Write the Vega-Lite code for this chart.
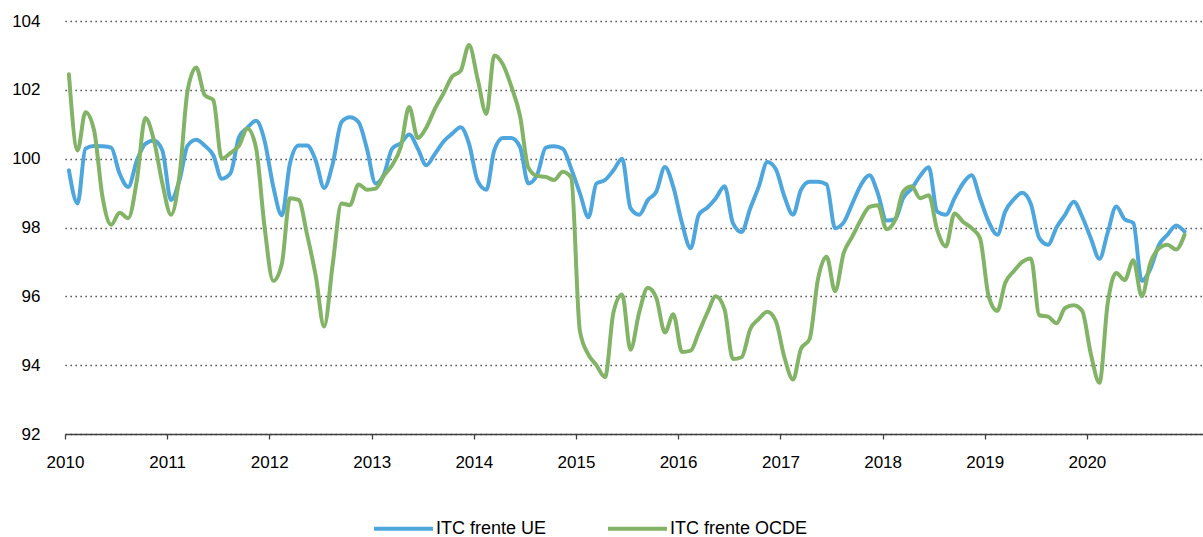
{
  "$schema": "https://vega.github.io/schema/vega-lite/v6.json",
  "width": 1138,
  "height": 413,
  "autosize": {"type": "none"},
  "padding": {"left": 65, "top": 21, "right": 0, "bottom": 103},
  "background": "white",
  "config": {"view": {"stroke": null}, "font": "Liberation Sans"},
  "data": {"values": [
    {"m":"2010-01-15","ITC frente UE":99.66,"ITC frente OCDE":102.45},
    {"m":"2010-02-15","ITC frente UE":98.70,"ITC frente OCDE":100.24},
    {"m":"2010-03-15","ITC frente UE":100.29,"ITC frente OCDE":101.35},
    {"m":"2010-04-15","ITC frente UE":100.37,"ITC frente OCDE":100.82},
    {"m":"2010-05-15","ITC frente UE":100.36,"ITC frente OCDE":98.89},
    {"m":"2010-06-15","ITC frente UE":100.32,"ITC frente OCDE":98.08},
    {"m":"2010-07-15","ITC frente UE":99.57,"ITC frente OCDE":98.43},
    {"m":"2010-08-15","ITC frente UE":99.18,"ITC frente OCDE":98.27},
    {"m":"2010-09-15","ITC frente UE":99.95,"ITC frente OCDE":99.38},
    {"m":"2010-10-15","ITC frente UE":100.43,"ITC frente OCDE":101.18},
    {"m":"2010-11-15","ITC frente UE":100.53,"ITC frente OCDE":100.53},
    {"m":"2010-12-15","ITC frente UE":100.24,"ITC frente OCDE":99.28},
    {"m":"2011-01-15","ITC frente UE":98.80,"ITC frente OCDE":98.37},
    {"m":"2011-02-15","ITC frente UE":99.40,"ITC frente OCDE":99.57},
    {"m":"2011-03-15","ITC frente UE":100.38,"ITC frente OCDE":101.97},
    {"m":"2011-04-15","ITC frente UE":100.55,"ITC frente OCDE":102.65},
    {"m":"2011-05-15","ITC frente UE":100.38,"ITC frente OCDE":101.85},
    {"m":"2011-06-15","ITC frente UE":100.10,"ITC frente OCDE":101.70},
    {"m":"2011-07-15","ITC frente UE":99.42,"ITC frente OCDE":100.00},
    {"m":"2011-08-15","ITC frente UE":99.57,"ITC frente OCDE":100.16},
    {"m":"2011-09-15","ITC frente UE":100.63,"ITC frente OCDE":100.38},
    {"m":"2011-10-15","ITC frente UE":100.90,"ITC frente OCDE":100.88},
    {"m":"2011-11-15","ITC frente UE":101.10,"ITC frente OCDE":100.30},
    {"m":"2011-12-15","ITC frente UE":100.53,"ITC frente OCDE":98.03},
    {"m":"2012-01-15","ITC frente UE":99.20,"ITC frente OCDE":96.45},
    {"m":"2012-02-15","ITC frente UE":98.35,"ITC frente OCDE":96.95},
    {"m":"2012-03-15","ITC frente UE":99.86,"ITC frente OCDE":98.85},
    {"m":"2012-04-15","ITC frente UE":100.38,"ITC frente OCDE":98.80},
    {"m":"2012-05-15","ITC frente UE":100.38,"ITC frente OCDE":97.80},
    {"m":"2012-06-15","ITC frente UE":99.95,"ITC frente OCDE":96.60},
    {"m":"2012-07-15","ITC frente UE":99.15,"ITC frente OCDE":95.12},
    {"m":"2012-08-15","ITC frente UE":99.86,"ITC frente OCDE":96.95},
    {"m":"2012-09-15","ITC frente UE":101.06,"ITC frente OCDE":98.70},
    {"m":"2012-10-15","ITC frente UE":101.20,"ITC frente OCDE":98.65},
    {"m":"2012-11-15","ITC frente UE":101.06,"ITC frente OCDE":99.25},
    {"m":"2012-12-15","ITC frente UE":100.29,"ITC frente OCDE":99.10},
    {"m":"2013-01-15","ITC frente UE":99.28,"ITC frente OCDE":99.13},
    {"m":"2013-02-15","ITC frente UE":99.57,"ITC frente OCDE":99.52},
    {"m":"2013-03-15","ITC frente UE":100.29,"ITC frente OCDE":99.81},
    {"m":"2013-04-15","ITC frente UE":100.45,"ITC frente OCDE":100.34},
    {"m":"2013-05-15","ITC frente UE":100.70,"ITC frente OCDE":101.50},
    {"m":"2013-06-15","ITC frente UE":100.29,"ITC frente OCDE":100.60},
    {"m":"2013-07-15","ITC frente UE":99.81,"ITC frente OCDE":100.90},
    {"m":"2013-08-15","ITC frente UE":100.14,"ITC frente OCDE":101.45},
    {"m":"2013-09-15","ITC frente UE":100.50,"ITC frente OCDE":101.90},
    {"m":"2013-10-15","ITC frente UE":100.72,"ITC frente OCDE":102.38},
    {"m":"2013-11-15","ITC frente UE":100.91,"ITC frente OCDE":102.55},
    {"m":"2013-12-15","ITC frente UE":100.43,"ITC frente OCDE":103.30},
    {"m":"2014-01-15","ITC frente UE":99.35,"ITC frente OCDE":102.30},
    {"m":"2014-02-15","ITC frente UE":99.10,"ITC frente OCDE":101.30},
    {"m":"2014-03-15","ITC frente UE":100.24,"ITC frente OCDE":103.00},
    {"m":"2014-04-15","ITC frente UE":100.60,"ITC frente OCDE":102.74},
    {"m":"2014-05-15","ITC frente UE":100.60,"ITC frente OCDE":102.10},
    {"m":"2014-06-15","ITC frente UE":100.34,"ITC frente OCDE":101.25},
    {"m":"2014-07-15","ITC frente UE":99.28,"ITC frente OCDE":99.74},
    {"m":"2014-08-15","ITC frente UE":99.52,"ITC frente OCDE":99.50},
    {"m":"2014-09-15","ITC frente UE":100.32,"ITC frente OCDE":99.47},
    {"m":"2014-10-15","ITC frente UE":100.36,"ITC frente OCDE":99.38},
    {"m":"2014-11-15","ITC frente UE":100.29,"ITC frente OCDE":99.62},
    {"m":"2014-12-15","ITC frente UE":99.71,"ITC frente OCDE":99.45},
    {"m":"2015-01-15","ITC frente UE":99.00,"ITC frente OCDE":95.00},
    {"m":"2015-02-15","ITC frente UE":98.30,"ITC frente OCDE":94.30},
    {"m":"2015-03-15","ITC frente UE":99.28,"ITC frente OCDE":94.00},
    {"m":"2015-04-15","ITC frente UE":99.38,"ITC frente OCDE":93.65},
    {"m":"2015-05-15","ITC frente UE":99.66,"ITC frente OCDE":95.53},
    {"m":"2015-06-15","ITC frente UE":100.00,"ITC frente OCDE":96.05},
    {"m":"2015-07-15","ITC frente UE":98.56,"ITC frente OCDE":94.45},
    {"m":"2015-08-15","ITC frente UE":98.37,"ITC frente OCDE":95.53},
    {"m":"2015-09-15","ITC frente UE":98.80,"ITC frente OCDE":96.25},
    {"m":"2015-10-15","ITC frente UE":99.04,"ITC frente OCDE":95.96},
    {"m":"2015-11-15","ITC frente UE":99.76,"ITC frente OCDE":94.95},
    {"m":"2015-12-15","ITC frente UE":99.18,"ITC frente OCDE":95.48},
    {"m":"2016-01-15","ITC frente UE":98.13,"ITC frente OCDE":94.38},
    {"m":"2016-02-15","ITC frente UE":97.40,"ITC frente OCDE":94.42},
    {"m":"2016-03-15","ITC frente UE":98.37,"ITC frente OCDE":94.95},
    {"m":"2016-04-15","ITC frente UE":98.58,"ITC frente OCDE":95.53},
    {"m":"2016-05-15","ITC frente UE":98.85,"ITC frente OCDE":96.00},
    {"m":"2016-06-15","ITC frente UE":99.20,"ITC frente OCDE":95.62},
    {"m":"2016-07-15","ITC frente UE":98.13,"ITC frente OCDE":94.18},
    {"m":"2016-08-15","ITC frente UE":97.87,"ITC frente OCDE":94.23},
    {"m":"2016-09-15","ITC frente UE":98.56,"ITC frente OCDE":95.05},
    {"m":"2016-10-15","ITC frente UE":99.18,"ITC frente OCDE":95.34},
    {"m":"2016-11-15","ITC frente UE":99.90,"ITC frente OCDE":95.55},
    {"m":"2016-12-15","ITC frente UE":99.70,"ITC frente OCDE":95.29},
    {"m":"2017-01-15","ITC frente UE":98.90,"ITC frente OCDE":94.23},
    {"m":"2017-02-15","ITC frente UE":98.37,"ITC frente OCDE":93.58},
    {"m":"2017-03-15","ITC frente UE":99.09,"ITC frente OCDE":94.47},
    {"m":"2017-04-15","ITC frente UE":99.33,"ITC frente OCDE":94.76},
    {"m":"2017-05-15","ITC frente UE":99.33,"ITC frente OCDE":96.50},
    {"m":"2017-06-15","ITC frente UE":99.25,"ITC frente OCDE":97.15},
    {"m":"2017-07-15","ITC frente UE":97.98,"ITC frente OCDE":96.15},
    {"m":"2017-08-15","ITC frente UE":98.15,"ITC frente OCDE":97.26},
    {"m":"2017-09-15","ITC frente UE":98.70,"ITC frente OCDE":97.74},
    {"m":"2017-10-15","ITC frente UE":99.23,"ITC frente OCDE":98.22},
    {"m":"2017-11-15","ITC frente UE":99.52,"ITC frente OCDE":98.60},
    {"m":"2017-12-15","ITC frente UE":98.99,"ITC frente OCDE":98.65},
    {"m":"2018-01-15","ITC frente UE":98.20,"ITC frente OCDE":97.95},
    {"m":"2018-02-15","ITC frente UE":98.24,"ITC frente OCDE":98.22},
    {"m":"2018-03-15","ITC frente UE":98.85,"ITC frente OCDE":99.04},
    {"m":"2018-04-15","ITC frente UE":99.13,"ITC frente OCDE":99.20},
    {"m":"2018-05-15","ITC frente UE":99.50,"ITC frente OCDE":98.85},
    {"m":"2018-06-15","ITC frente UE":99.75,"ITC frente OCDE":98.94},
    {"m":"2018-07-15","ITC frente UE":98.46,"ITC frente OCDE":97.93},
    {"m":"2018-08-15","ITC frente UE":98.37,"ITC frente OCDE":97.45},
    {"m":"2018-09-15","ITC frente UE":98.85,"ITC frente OCDE":98.41},
    {"m":"2018-10-15","ITC frente UE":99.28,"ITC frente OCDE":98.17},
    {"m":"2018-11-15","ITC frente UE":99.52,"ITC frente OCDE":97.98},
    {"m":"2018-12-15","ITC frente UE":98.85,"ITC frente OCDE":97.69},
    {"m":"2019-01-15","ITC frente UE":98.17,"ITC frente OCDE":96.00},
    {"m":"2019-02-15","ITC frente UE":97.79,"ITC frente OCDE":95.58},
    {"m":"2019-03-15","ITC frente UE":98.46,"ITC frente OCDE":96.39},
    {"m":"2019-04-15","ITC frente UE":98.82,"ITC frente OCDE":96.73},
    {"m":"2019-05-15","ITC frente UE":99.01,"ITC frente OCDE":97.00},
    {"m":"2019-06-15","ITC frente UE":98.68,"ITC frente OCDE":97.10},
    {"m":"2019-07-15","ITC frente UE":97.69,"ITC frente OCDE":95.45},
    {"m":"2019-08-15","ITC frente UE":97.50,"ITC frente OCDE":95.41},
    {"m":"2019-09-15","ITC frente UE":98.01,"ITC frente OCDE":95.22},
    {"m":"2019-10-15","ITC frente UE":98.37,"ITC frente OCDE":95.66},
    {"m":"2019-11-15","ITC frente UE":98.75,"ITC frente OCDE":95.74},
    {"m":"2019-12-15","ITC frente UE":98.32,"ITC frente OCDE":95.58},
    {"m":"2020-01-15","ITC frente UE":97.69,"ITC frente OCDE":94.33},
    {"m":"2020-02-15","ITC frente UE":97.09,"ITC frente OCDE":93.49},
    {"m":"2020-03-15","ITC frente UE":97.84,"ITC frente OCDE":95.77},
    {"m":"2020-04-15","ITC frente UE":98.61,"ITC frente OCDE":96.68},
    {"m":"2020-05-15","ITC frente UE":98.24,"ITC frente OCDE":96.47},
    {"m":"2020-06-15","ITC frente UE":98.13,"ITC frente OCDE":97.05},
    {"m":"2020-07-15","ITC frente UE":96.45,"ITC frente OCDE":96.00},
    {"m":"2020-08-15","ITC frente UE":96.80,"ITC frente OCDE":96.97},
    {"m":"2020-09-15","ITC frente UE":97.50,"ITC frente OCDE":97.40},
    {"m":"2020-10-15","ITC frente UE":97.79,"ITC frente OCDE":97.50},
    {"m":"2020-11-15","ITC frente UE":98.06,"ITC frente OCDE":97.36},
    {"m":"2020-12-15","ITC frente UE":97.88,"ITC frente OCDE":97.79}
  ]},
  "transform": [{"fold": ["ITC frente UE", "ITC frente OCDE"], "as": ["serie", "valor"]}],
  "mark": {"type": "line", "interpolate": "monotone", "strokeWidth": 4, "strokeCap": "round", "strokeJoin": "round"},
  "encoding": {
    "x": {
      "field": "m", "type": "temporal",
      "scale": {"type": "utc", "domain": [{"year": 2010, "month": 1, "date": 1, "utc": true}, {"year": 2021, "month": 2, "date": 19, "utc": true}]},
      "axis": {
        "title": null, "grid": false,
        "values": [
          {"year": 2010, "month": 1, "date": 1, "utc": true},
          {"year": 2011, "month": 1, "date": 1, "utc": true},
          {"year": 2012, "month": 1, "date": 1, "utc": true},
          {"year": 2013, "month": 1, "date": 1, "utc": true},
          {"year": 2014, "month": 1, "date": 1, "utc": true},
          {"year": 2015, "month": 1, "date": 1, "utc": true},
          {"year": 2016, "month": 1, "date": 1, "utc": true},
          {"year": 2017, "month": 1, "date": 1, "utc": true},
          {"year": 2018, "month": 1, "date": 1, "utc": true},
          {"year": 2019, "month": 1, "date": 1, "utc": true},
          {"year": 2020, "month": 1, "date": 1, "utc": true}
        ],
        "format": "%Y", "formatType": "utc",
        "domainColor": "#404040", "domainWidth": 1.3,
        "tickColor": "#404040", "tickWidth": 1.3, "tickSize": 5,
        "labelPadding": 15, "labelFontSize": 17, "labelColor": "#000000",
        "labelAlign": "center", "labelFlush": false, "labelOverlap": false
      }
    },
    "y": {
      "field": "valor", "type": "quantitative",
      "scale": {"domain": [92, 104], "nice": false, "zero": false},
      "axis": {
        "title": null, "values": [92, 94, 96, 98, 100, 102, 104],
        "domain": false, "ticks": false,
        "grid": true, "gridDash": [1.3, 3.7], "gridColor": "#333333", "gridWidth": 1.3,
        "labelPadding": 25, "labelFontSize": 17, "labelColor": "#000000"
      }
    },
    "color": {
      "field": "serie", "type": "nominal",
      "scale": {"domain": ["ITC frente UE", "ITC frente OCDE"], "range": ["#4EA6DC", "#82B366"]},
      "legend": {
        "title": null, "orient": "none", "legendX": 307, "legendY": 476,
        "direction": "horizontal", "symbolType": "stroke", "symbolSize": 3481,
        "symbolStrokeWidth": 4, "labelFontSize": 18, "labelColor": "#000000",
        "labelOffset": 1, "columnPadding": 53, "padding": 0
      }
    }
  }
}
